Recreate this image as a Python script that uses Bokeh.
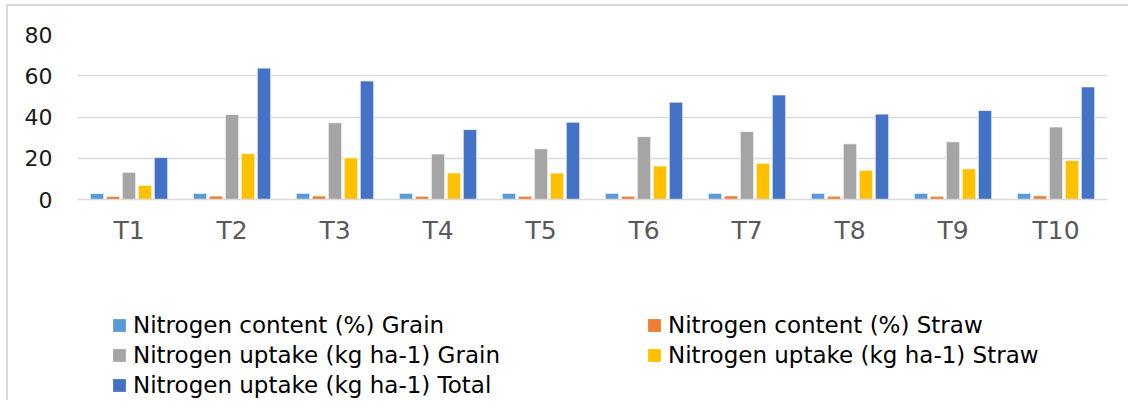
from bokeh.plotting import figure
from bokeh.layouts import column
from bokeh.models import Range1d, FactorRange, Legend, LegendItem
from bokeh.transform import dodge
from bokeh.embed import file_html
from bokeh.resources import INLINE

categories = ["T1", "T2", "T3", "T4", "T5", "T6", "T7", "T8", "T9", "T10"]
n_content_grain = [2.9, 3.0, 3.0, 3.0, 3.0, 3.0, 3.0, 3.0, 3.0, 3.0]
n_content_straw = [1.5, 1.7, 1.7, 1.6, 1.6, 1.6, 1.8, 1.6, 1.6, 1.8]
n_uptake_grain = [13.2, 41.2, 37.2, 22.1, 24.6, 30.5, 33.0, 27.0, 28.0, 35.2]
n_uptake_straw = [6.9, 22.3, 20.2, 12.9, 12.8, 16.3, 17.6, 14.2, 14.9, 18.9]
n_uptake_total = [20.4, 63.7, 57.5, 33.9, 37.5, 47.2, 50.7, 41.4, 43.2, 54.6]
y_ticks = [0, 20, 40, 60, 80]

series = [
    ("Nitrogen content (%) Grain", n_content_grain, "#5B9BD5"),
    ("Nitrogen content (%) Straw", n_content_straw, "#ED7D31"),
    ("Nitrogen uptake (kg ha-1) Grain", n_uptake_grain, "#A5A5A5"),
    ("Nitrogen uptake (kg ha-1) Straw", n_uptake_straw, "#FFC000"),
    ("Nitrogen uptake (kg ha-1) Total", n_uptake_total, "#4472C4"),
]

FONT = "DejaVu Sans"
W = 1120

# ---- main chart ----
p = figure(
    width=W, height=254,
    x_range=FactorRange(*categories, range_padding=0),
    y_range=Range1d(0, 80),
    output_backend="svg", toolbar_location=None,
    min_border_left=69, min_border_right=W - 69 - 1030, min_border_top=28, min_border_bottom=61,
)
p.outline_line_color = None
p.background_fill_color = "white"
p.border_fill_color = "white"

data = {"cat": categories}
for i, (name, vals, color) in enumerate(series):
    data[f"s{i}"] = vals

pitch = 0.1553
for i, (name, vals, color) in enumerate(series):
    p.vbar(x=dodge("cat", (i - 2) * pitch, range=p.x_range), top=f"s{i}",
           width=0.131, source=data, fill_color=color,
           line_color="white", line_width=0.75)

p.xgrid.grid_line_color = None
p.ygrid.grid_line_color = "#d9d9d9"
p.ygrid.grid_line_width = 1.5
p.yaxis.ticker = y_ticks

p.yaxis.axis_line_color = None
p.yaxis.major_tick_line_color = None
p.yaxis.minor_tick_line_color = None
p.yaxis.major_tick_out = 0
p.yaxis.major_tick_in = 0
p.yaxis.major_label_standoff = 25
p.yaxis.major_label_text_font = FONT
p.yaxis.major_label_text_font_size = "22px"
p.yaxis.major_label_text_color = "#1a1a1a"

p.xaxis.axis_line_color = "#d9d9d9"
p.xaxis.axis_line_width = 1.5
p.xaxis.major_tick_line_color = None
p.xaxis.minor_tick_line_color = None
p.xaxis.major_tick_out = 0
p.xaxis.major_tick_in = 0
p.xaxis.major_label_standoff = 16
p.xaxis.major_label_text_font = FONT
p.xaxis.major_label_text_font_size = "25px"
p.xaxis.major_label_text_color = "#595959"

# ---- legend panel ----
q = figure(
    width=W, height=140,
    x_range=FactorRange(*categories, range_padding=0),
    y_range=Range1d(1000, 1001),
    x_axis_type=None, y_axis_type=None,
    output_backend="svg", toolbar_location=None,
    min_border_left=0, min_border_right=0, min_border_top=0, min_border_bottom=0,
)
q.outline_line_color = None
q.xgrid.grid_line_color = None
q.ygrid.grid_line_color = None
q.background_fill_color = "white"
q.border_fill_color = "white"

legend_renderers = []
for i, (name, vals, color) in enumerate(series):
    r = q.vbar(x=dodge("cat", (i - 2) * pitch, range=q.x_range), top=f"s{i}",
               width=0.131, source=dict(data), fill_color=color, line_color=None)
    legend_renderers.append(r)

items = [LegendItem(label=name, renderers=[legend_renderers[i]])
         for i, (name, _, _) in enumerate(series)]
legend = Legend(items=items, location=(34, 0), orientation="horizontal", ncols=2,
                padding=0, margin=0, spacing=0,
                glyph_width=16, glyph_height=16, label_standoff=6,
                label_height=30, label_width=513,
                label_text_font=FONT, label_text_font_size="23px",
                label_text_color="#000000",
                border_line_color=None, background_fill_alpha=0)
q.add_layout(legend, "center")

layout = column(p, q, spacing=0,
                styles={"border-top": "2px solid #d9d9d9", "border-left": "2px solid #d9d9d9",
                        "margin-left": "6px", "margin-top": "4px"})

open("out.html", "w").write(file_html(layout, INLINE))
